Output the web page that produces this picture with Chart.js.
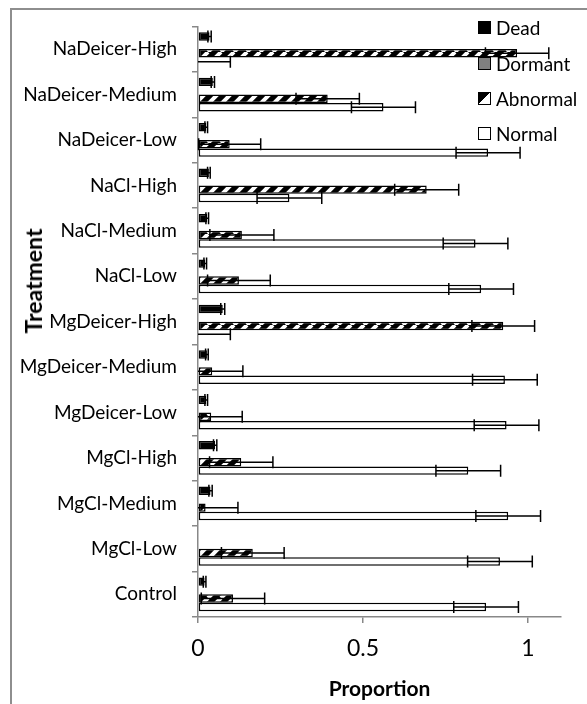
<!DOCTYPE html>
<html lang="en">
<head>
  <meta charset="UTF-8" />
  <title>Proportion by Treatment</title>
  <script src="https://cdn.jsdelivr.net/npm/chart.js"></script>
  <style>
    body { margin: 0; background: #fff; font-family: Lato, sans-serif; }
    .wrap { position: relative; width: 587px; height: 704px; overflow: hidden; }
    .frame { position: absolute; left: 10px; top: 8px; width: 620px; height: 740px; border: 2px solid #8e8e8e; }
    .chart-box { position: absolute; left: 0; top: 0; width: 587px; height: 704px; }
    .ytitle {
      position: absolute; left: 33px; top: 281px;
      transform: translate(-50%, -50%) rotate(-90deg);
      font-weight: bold; font-size: 23px; white-space: nowrap;
    }
    .legend-item { position: absolute; left: 478px; height: 20px; display: flex; align-items: center; font-size: 19px; }
    .swatch { width: 11px; height: 11px; border: 1px solid #000; margin-right: 5px; }
  </style>
</head>
<body>
  <div class="wrap">
    <div class="frame"></div>
    <div class="chart-box"><canvas id="propChart"></canvas></div>
    <div class="ytitle">Treatment</div>
    <div class="legend-item" style="top:17px"><span class="swatch" style="background:#000"></span>Dead</div>
    <div class="legend-item" style="top:53px"><span class="swatch" style="background:#808080"></span>Dormant</div>
    <div class="legend-item" style="top:88px"><span class="swatch" style="background:linear-gradient(to bottom right,#000 50%,#fff 50%)"></span>Abnormal</div>
    <div class="legend-item" style="top:123px"><span class="swatch" style="background:#fff"></span>Normal</div>
  </div>

  <script>
    // categories listed top to bottom as they appear
    const categories = ['NaDeicer-High', 'NaDeicer-Medium', 'NaDeicer-Low', 'NaCl-High', 'NaCl-Medium', 'NaCl-Low',
      'MgDeicer-High', 'MgDeicer-Medium', 'MgDeicer-Low', 'MgCl-High', 'MgCl-Medium', 'MgCl-Low', 'Control'];

    const dead        = [0.035, 0.045, 0.025, 0.033, 0.028, 0.022, 0.075, 0.027, 0.025, 0.052, 0.038, 0, 0.02];
    const deadErr     = [0.005, 0.005, 0.004, 0.004, 0.004, 0.004, 0.006, 0.004, 0.004, 0.005, 0.005, 0, 0.004];
    const dormant     = [0, 0, 0, 0, 0, 0, 0, 0, 0, 0, 0, 0, 0];
    const abnormal    = [0.967, 0.393, 0.096, 0.693, 0.133, 0.124, 0.925, 0.043, 0.04, 0.131, 0.023, 0.166, 0.106];
    const abnormalErr = [0.096, 0.096, 0.094, 0.097, 0.097, 0.095, 0.095, 0.093, 0.094, 0.096, 0.098, 0.095, 0.096];
    const normal      = [0, 0.562, 0.879, 0.277, 0.841, 0.858, 0, 0.93, 0.935, 0.819, 0.94, 0.915, 0.873];
    const normalErr   = [0.098, 0.097, 0.097, 0.098, 0.098, 0.098, 0.098, 0.098, 0.098, 0.098, 0.098, 0.098, 0.098];

    const xTicks = [0, 0.5, 1];

    // diagonal stripe fill for the Abnormal bars
    function stripePattern() {
      const c = document.createElement('canvas');
      c.width = 13; c.height = 13;
      const p = c.getContext('2d');
      p.fillStyle = '#000';
      p.fillRect(0, 0, 13, 13);
      p.strokeStyle = '#fff';
      p.lineWidth = 4;
      [-13, 0, 13].forEach(k => {
        p.beginPath();
        p.moveTo(k, 13);
        p.lineTo(k + 13, 0);
        p.stroke();
      });
      return p.createPattern(c, 'repeat');
    }

    // plus/minus error bars drawn from the x scale
    const errorBars = {
      id: 'errorBars',
      afterDatasetsDraw(chart) {
        const ctx = chart.ctx, xs = chart.scales.x;
        ctx.save();
        ctx.strokeStyle = '#000';
        ctx.lineWidth = 1.5;
        chart.data.datasets.forEach((ds, i) => {
          if (!ds.errors) return;
          chart.getDatasetMeta(i).data.forEach((bar, j) => {
            const v = ds.data[j], e = ds.errors[j];
            if (!e) return;
            const x0 = xs.getPixelForValue(Math.max(v - e, xs.min));
            const x1 = xs.getPixelForValue(v + e);
            const y = bar.y;
            ctx.beginPath();
            ctx.moveTo(x0, y); ctx.lineTo(x1, y);
            ctx.moveTo(x1, y - 6); ctx.lineTo(x1, y + 6);
            if (v - e >= xs.min) { ctx.moveTo(x0, y - 6); ctx.lineTo(x0, y + 6); }
            ctx.stroke();
          });
        });
        ctx.restore();
      }
    };

    const ctx = document.getElementById('propChart').getContext('2d');
    const propChart = new Chart(ctx, {
      type: 'bar',
      data: {
        labels: categories,
        datasets: [
          { label: 'Dead', data: dead, errors: deadErr, backgroundColor: '#000' },
          { label: 'Dormant', data: dormant, backgroundColor: '#808080' },
          { label: 'Abnormal', data: abnormal, errors: abnormalErr, backgroundColor: stripePattern() },
          { label: 'Normal', data: normal, errors: normalErr, backgroundColor: '#fff' }
        ]
      },
      options: {
        indexAxis: 'y',
        responsive: true,
        maintainAspectRatio: false,
        animation: false,
        layout: { padding: { top: 22, right: 26, left: 0, bottom: 0 } },
        datasets: {
          bar: {
            borderColor: '#000',
            borderWidth: 1.5,
            borderSkipped: false,
            barPercentage: 1,
            categoryPercentage: 0.743
          }
        },
        scales: {
          x: {
            min: 0,
            max: 1.1,
            afterFit: s => { s.height = 87; },
            afterBuildTicks: s => { s.ticks = xTicks.map(v => ({ value: v })); },
            ticks: { color: '#000', font: { family: 'Lato', size: 23 }, padding: 12, callback: v => String(v) },
            grid: { drawOnChartArea: false, tickLength: 6, color: '#888', lineWidth: 1.5 },
            border: { color: '#888', width: 1.5 },
            title: { display: true, text: 'Proportion', color: '#000', font: { family: 'Lato', size: 21, weight: 'bold' }, padding: { top: 0, bottom: 2 } }
          },
          y: {
            offset: true,
            afterFit: s => { s.width = 198; },
            ticks: { color: '#000', font: { family: 'Lato', size: 19 }, padding: 15 },
            grid: { offset: true, drawOnChartArea: false, tickLength: 6, color: '#888', lineWidth: 1.5 },
            border: { color: '#888', width: 1.5 }
          }
        },
        plugins: {
          legend: { display: false },
          tooltip: { enabled: false }
        }
      },
      plugins: [errorBars]
    });
  </script>
</body>
</html>
